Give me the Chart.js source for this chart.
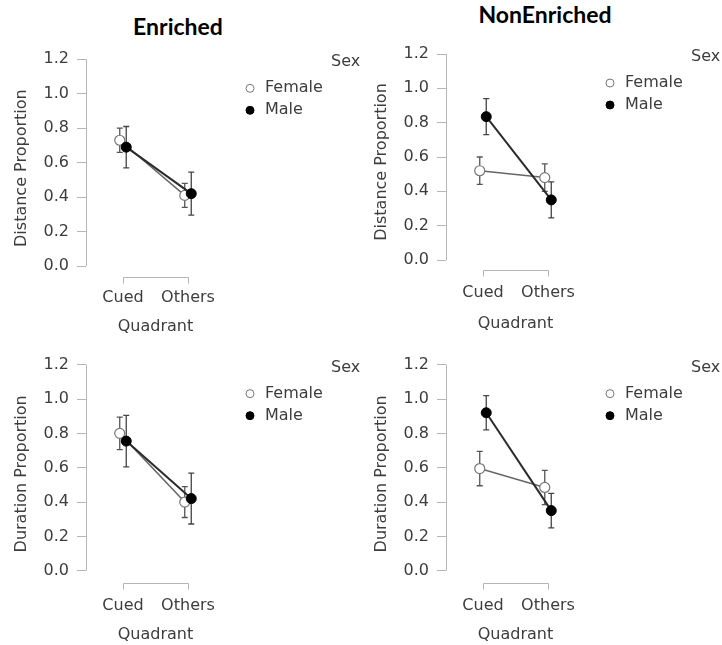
<!DOCTYPE html>
<html>
<head>
<meta charset="utf-8">
<script src="https://cdn.jsdelivr.net/npm/chart.js@4.4.0/dist/chart.umd.min.js"></script>
<style>
  html, body { margin: 0; padding: 0; background: #fff; }
  body { width: 722px; height: 645px; position: relative; overflow: hidden; }
  .painel { position: absolute; width: 360px; }
  .titulo {
    position: absolute; transform: translateX(-50%); white-space: nowrap;
    font-family: Lato, sans-serif; font-weight: 700; font-size: 23px; line-height: 1; color: #000;
  }
</style>
</head>
<body>
<div class="titulo" style="left:178px; top:15px;">Enriched</div>
<div class="titulo" style="left:545px; top:3px;">NonEnriched</div>
<script>
const quadrants = ["Cued", "Others"];
const sexes = ["Female", "Male"];
const yTickValues = [0, 0.2, 0.4, 0.6, 0.8, 1.0, 1.2];

// Enriched - distancia
const enrDistFemale = [0.73, 0.41];
const enrDistFemaleErr = [0.07, 0.07];
const enrDistMale = [0.69, 0.42];
const enrDistMaleErr = [0.12, 0.125];

// NonEnriched - distancia
const nonDistFemale = [0.52, 0.48];
const nonDistFemaleErr = [0.08, 0.08];
const nonDistMale = [0.835, 0.35];
const nonDistMaleErr = [0.105, 0.105];

// Enriched - duracao
const enrDurFemale = [0.80, 0.40];
const enrDurFemaleErr = [0.095, 0.09];
const enrDurMale = [0.755, 0.42];
const enrDurMaleErr = [0.15, 0.148];

// NonEnriched - duracao
const nonDurFemale = [0.595, 0.485];
const nonDurFemaleErr = [0.10, 0.10];
const nonDurMale = [0.92, 0.35];
const nonDurMaleErr = [0.10, 0.10];

const DODGE = 0.05;
const FONTE = "'DejaVu Sans', sans-serif";
const COR_TEXTO = "#3d3d3d";
const COR_EIXO = "#b5b5b5";

Chart.defaults.font.family = FONTE;
Chart.defaults.font.size = 16;
Chart.defaults.color = COR_TEXTO;

const paineis = [
  { left: 0, top: 0, h: 345, yTitle: "Distance Proportion",
    female: enrDistFemale, femaleErr: enrDistFemaleErr, male: enrDistMale, maleErr: enrDistMaleErr,
    topo: 59.3, zero: 266, base: 277, rotY: 297.5, tituloY: 327 },
  { left: 360, top: 0, h: 345, yTitle: "Distance Proportion",
    female: nonDistFemale, femaleErr: nonDistFemaleErr, male: nonDistMale, maleErr: nonDistMaleErr,
    topo: 54, zero: 260, base: 270, rotY: 293, tituloY: 324 },
  { left: 0, top: 345, h: 300, yTitle: "Duration Proportion",
    female: enrDurFemale, femaleErr: enrDurFemaleErr, male: enrDurMale, maleErr: enrDurMaleErr,
    topo: 19.7, zero: 225.7, base: 238, rotY: 261, tituloY: 290 },
  { left: 360, top: 345, h: 300, yTitle: "Duration Proportion",
    female: nonDurFemale, femaleErr: nonDurFemaleErr, male: nonDurMale, maleErr: nonDurMaleErr,
    topo: 19.7, zero: 225.7, base: 238, rotY: 261, tituloY: 290 },
];

function pontos(valores, desloc) {
  return quadrants.map((q, i) => ({ x: i + desloc, y: valores[i] }));
}

// eixos estilo JASP, barras de erro e legenda
const desenhoExtra = {
  id: "desenhoExtra",
  beforeDatasetsDraw(chart) {
    const { ctx, chartArea } = chart;
    const x = chart.scales.x, y = chart.scales.y;
    ctx.save();
    ctx.strokeStyle = COR_EIXO;
    ctx.lineWidth = 1;
    ctx.beginPath();
    const ax = Math.round(chartArea.left) + 0.5;
    ctx.moveTo(ax, y.getPixelForValue(yTickValues[yTickValues.length - 1]));
    ctx.lineTo(ax, y.getPixelForValue(yTickValues[0]));
    const by = Math.round(chartArea.bottom) + 0.5;
    const x0 = Math.round(x.getPixelForValue(0)) + 0.5;
    const x1 = Math.round(x.getPixelForValue(quadrants.length - 1)) + 0.5;
    ctx.moveTo(x0, by + 6);
    ctx.lineTo(x0, by);
    ctx.lineTo(x1, by);
    ctx.lineTo(x1, by + 6);
    ctx.stroke();

    chart.data.datasets.forEach((ds) => {
      ctx.strokeStyle = ds.corErro;
      ctx.lineWidth = 1.3;
      ds.data.forEach((pt, i) => {
        const px = x.getPixelForValue(pt.x);
        const t = y.getPixelForValue(pt.y + ds.erros[i]);
        const b = y.getPixelForValue(pt.y - ds.erros[i]);
        ctx.beginPath();
        ctx.moveTo(px, t); ctx.lineTo(px, b);
        ctx.moveTo(px - 3, t); ctx.lineTo(px + 3, t);
        ctx.moveTo(px - 3, b); ctx.lineTo(px + 3, b);
        ctx.stroke();
      });
    });
    ctx.restore();
  },
  afterDraw(chart) {
    const { ctx, chartArea } = chart;
    const t = chartArea.top;
    ctx.save();
    ctx.font = "16px " + FONTE;
    ctx.fillStyle = COR_TEXTO;
    ctx.textBaseline = "middle";
    ctx.textAlign = "left";
    ctx.fillText("Sex", 331, t + 3);
    chart.data.datasets.forEach((ds, k) => {
      const ly = t + 29 + k * 22;
      ctx.beginPath();
      ctx.arc(250, ly, 4, 0, Math.PI * 2);
      ctx.fillStyle = ds.pointBackgroundColor;
      ctx.fill();
      ctx.strokeStyle = ds.pointBorderColor;
      ctx.lineWidth = 1;
      ctx.stroke();
      ctx.fillStyle = COR_TEXTO;
      ctx.fillText(ds.label, 265, ly);
    });
    ctx.restore();
  },
};

function criarPainel(p) {
  const div = document.createElement("div");
  div.className = "painel";
  div.style.left = p.left + "px";
  div.style.top = p.top + "px";
  div.style.height = p.h + "px";
  const canvas = document.createElement("canvas");
  div.appendChild(canvas);
  document.body.appendChild(div);

  const yMin = -1.2 * (p.base - p.zero) / (p.zero - p.topo);
  const alturaX = p.tituloY - p.base + 9.6;

  new Chart(canvas.getContext("2d"), {
    type: "line",
    data: {
      datasets: [
        {
          label: sexes[0], data: pontos(p.female, -DODGE), erros: p.femaleErr, corErro: "#555",
          order: 2, borderColor: "#666", borderWidth: 1.5,
          pointRadius: 5, pointBackgroundColor: "#fff", pointBorderColor: "#777", pointBorderWidth: 1.2,
        },
        {
          label: sexes[1], data: pontos(p.male, DODGE), erros: p.maleErr, corErro: "#444",
          order: 1, borderColor: "#2b2b2b", borderWidth: 2,
          pointRadius: 5, pointBackgroundColor: "#000", pointBorderColor: "#000", pointBorderWidth: 1,
        },
      ],
    },
    options: {
      responsive: true,
      maintainAspectRatio: false,
      animation: false,
      events: [],
      layout: { padding: { left: 12.4, top: p.topo, right: 135, bottom: p.h - p.base - alturaX } },
      plugins: { legend: { display: false }, tooltip: { enabled: false } },
      scales: {
        x: {
          type: "linear",
          min: -0.569,
          max: 1.569,
          afterBuildTicks: (s) => { s.ticks = quadrants.map((q, i) => ({ value: i })); },
          afterFit: (s) => { s.height = alturaX; },
          grid: { display: false, drawTicks: false },
          border: { display: false },
          ticks: {
            padding: p.rotY - p.base - 9.6, maxRotation: 0, autoSkip: false,
            callback: (v) => quadrants[v],
          },
          title: { display: true, text: "Quadrant", padding: 0 },
        },
        y: {
          min: yMin,
          max: 1.2,
          afterBuildTicks: (s) => { s.ticks = yTickValues.map((v) => ({ value: v })); },
          afterFit: (s) => { s.width = 86 - 12.4; },
          grid: { drawOnChartArea: false, drawTicks: true, tickLength: 9, color: COR_EIXO },
          border: { display: false },
          ticks: { padding: 8, callback: (v) => v.toFixed(1) },
          title: { display: true, text: p.yTitle, padding: 0 },
        },
      },
    },
    plugins: [desenhoExtra],
  });
}

paineis.forEach(criarPainel);
</script>
</body>
</html>
